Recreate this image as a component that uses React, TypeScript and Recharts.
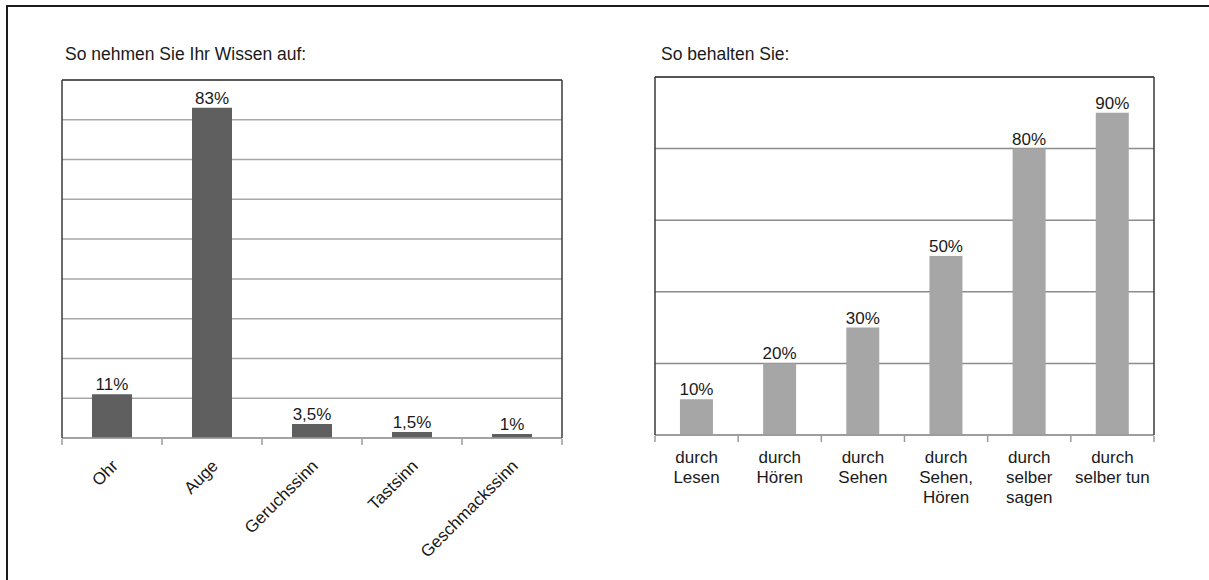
import React from "react";
import {
    BarChart,
    Bar,
    XAxis,
    YAxis,
    CartesianGrid,
    LabelList,
    ReferenceLine,
} from "recharts";

const FONT = "'Liberation Sans', Arial, sans-serif";
const TEXT = "#1a1a1a";

// left chart: how knowledge is taken in
const senseNames = ["Ohr", "Auge", "Geruchssinn", "Tastsinn", "Geschmackssinn"];
const senseShares = [11, 83, 3.5, 1.5, 1];
const senseTicks = [0, 10, 20, 30, 40, 50, 60, 70, 80, 90];

// right chart: how much is retained
const retainNames = [
    "durch\nLesen",
    "durch\nHören",
    "durch\nSehen",
    "durch\nSehen,\nHören",
    "durch\nselber\nsagen",
    "durch\nselber tun",
];
const retainShares = [10, 20, 30, 50, 80, 90];
const retainTicks = [0, 20, 40, 60, 80, 100];

const senseData = senseNames.map((name, i) => ({ name, value: senseShares[i], edge: i }));
const retainData = retainNames.map((name, i) => ({ name, value: retainShares[i], edge: i }));

// boundaries between categories, for the little tick marks under the axis
const senseEdges = [0, 1, 2, 3, 4, 5];
const retainEdges = [0, 1, 2, 3, 4, 5, 6];

const pct = (v: any) => `${String(v).replace(".", ",")}%`;

const RotatedTick = (props: any) => {
    const { x, y, payload } = props;
    const tx = x + 7;
    const ty = y + 29;
    return (
        <text
            x={tx}
            y={ty}
            textAnchor="end"
            fontSize={17}
            fontFamily={FONT}
            fill={TEXT}
            transform={`rotate(-45, ${tx}, ${ty})`}
        >
            {payload.value}
        </text>
    );
};

const MultiLineTick = (props: any) => {
    const { x, y, payload } = props;
    const lines = String(payload.value).split("\n");
    return (
        <text x={x} y={y + 28} textAnchor="middle" fontSize={17} fontFamily={FONT} fill={TEXT}>
            {lines.map((l, i) => (
                <tspan key={i} x={x} dy={i === 0 ? 0 : 20}>
                    {l}
                </tspan>
            ))}
        </text>
    );
};

const NoTick = () => <g />;

const BORDER = "#3a3a3a";
const AXIS = "#9a9a9a";

export default function App() {
    return (
        <div
            style={{
                position: "absolute",
                left: 0,
                top: 0,
                width: 1209,
                height: 580,
                background: "#fff",
                overflow: "hidden",
                fontFamily: FONT,
            }}
        >
            <div
                style={{
                    position: "absolute",
                    left: 6,
                    top: 5,
                    width: 1210,
                    height: 590,
                    borderTop: "2px solid #1c1c1c",
                    borderLeft: "2px solid #1c1c1c",
                }}
            />
            <div style={{ position: "absolute", left: 65, top: 44, fontSize: 17.5, color: TEXT }}>
                So nehmen Sie Ihr Wissen auf:
            </div>
            <div style={{ position: "absolute", left: 661, top: 44, fontSize: 17.5, color: TEXT }}>
                So behalten Sie:
            </div>

            <div style={{ position: "absolute", left: 0, top: 0 }}>
                <BarChart
                    width={600}
                    height={580}
                    data={senseData}
                    margin={{ top: 80, left: 61, right: 37, bottom: 140 }}
                    barCategoryGap="30%"
                >
                    <CartesianGrid vertical={false} stroke="#a8a8a8" strokeWidth={1.5} />
                    <XAxis
                        dataKey="name"
                        height={1}
                        interval={0}
                        axisLine={{ stroke: AXIS, strokeWidth: 1.5 }}
                        tickLine={false}
                        tickSize={0}
                        tickMargin={0}
                        tick={<RotatedTick />}
                    />
                    <XAxis
                        xAxisId="edges"
                        dataKey="edge"
                        type="number"
                        domain={[0, senseNames.length]}
                        allowDataOverflow
                        ticks={senseEdges}
                        height={1}
                        axisLine={false}
                        tick={NoTick}
                        tickSize={6}
                        tickLine={{ stroke: AXIS, strokeWidth: 1.5 }}
                    />
                    <YAxis
                        width={1}
                        domain={[0, 90]}
                        ticks={senseTicks}
                        tick={NoTick}
                        tickLine={false}
                        axisLine={{ stroke: BORDER, strokeWidth: 1.5 }}
                    />
                    <YAxis
                        yAxisId="r"
                        orientation="right"
                        width={1}
                        domain={[0, 90]}
                        tick={false}
                        tickLine={false}
                        axisLine={{ stroke: BORDER, strokeWidth: 1.5 }}
                    />
                    <ReferenceLine y={90} stroke={BORDER} strokeWidth={1.5} />
                    <Bar dataKey="value" fill="#5f5f5f" isAnimationActive={false}>
                        <LabelList
                            dataKey="value"
                            position="top"
                            offset={4}
                            formatter={pct}
                            fontSize={17}
                            fontFamily={FONT}
                            fill={TEXT}
                        />
                    </Bar>
                </BarChart>
            </div>

            <div style={{ position: "absolute", left: 600, top: 0 }}>
                <BarChart
                    width={609}
                    height={580}
                    data={retainData}
                    margin={{ top: 77, left: 54, right: 54, bottom: 143 }}
                    barCategoryGap="30%"
                >
                    <CartesianGrid vertical={false} stroke="#8c8c8c" strokeWidth={1.5} />
                    <XAxis
                        dataKey="name"
                        height={1}
                        interval={0}
                        axisLine={{ stroke: AXIS, strokeWidth: 1.5 }}
                        tickLine={false}
                        tickSize={0}
                        tickMargin={0}
                        tick={<MultiLineTick />}
                    />
                    <XAxis
                        xAxisId="edges"
                        dataKey="edge"
                        type="number"
                        domain={[0, retainNames.length]}
                        allowDataOverflow
                        ticks={retainEdges}
                        height={1}
                        axisLine={false}
                        tick={NoTick}
                        tickSize={6}
                        tickLine={{ stroke: AXIS, strokeWidth: 1.5 }}
                    />
                    <YAxis
                        width={1}
                        domain={[0, 100]}
                        ticks={retainTicks}
                        tick={NoTick}
                        tickLine={false}
                        axisLine={{ stroke: BORDER, strokeWidth: 1.5 }}
                    />
                    <YAxis
                        yAxisId="r"
                        orientation="right"
                        width={1}
                        domain={[0, 100]}
                        tick={false}
                        tickLine={false}
                        axisLine={{ stroke: BORDER, strokeWidth: 1.5 }}
                    />
                    <ReferenceLine y={100} stroke={BORDER} strokeWidth={1.5} />
                    <Bar dataKey="value" fill="#a6a6a6" isAnimationActive={false}>
                        <LabelList
                            dataKey="value"
                            position="top"
                            offset={4}
                            formatter={pct}
                            fontSize={17}
                            fontFamily={FONT}
                            fill={TEXT}
                        />
                    </Bar>
                </BarChart>
            </div>
        </div>
    );
}
